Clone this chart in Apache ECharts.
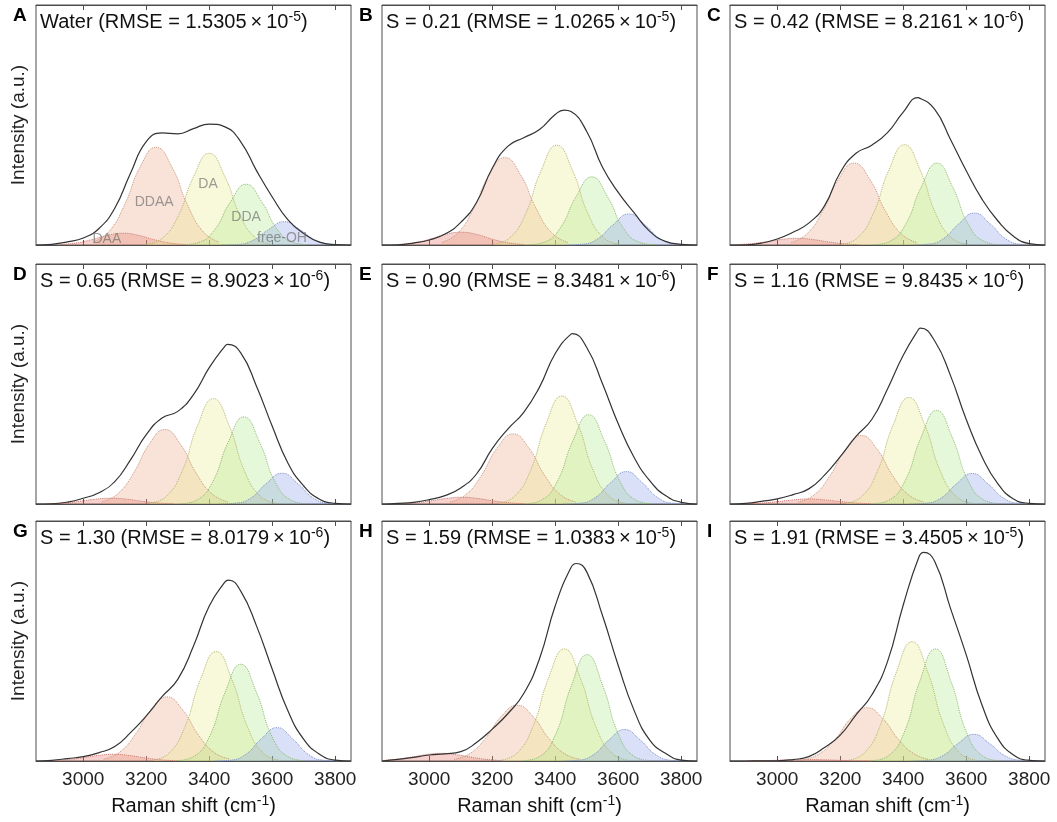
<!DOCTYPE html>
<html>
<head>
<meta charset="utf-8">
<script src="https://cdn.jsdelivr.net/npm/echarts@6/dist/echarts.min.js"></script>
<style>
  html, body { margin: 0; padding: 0; background: #fff; }
  #chart { width: 1057px; height: 822px; }
</style>
</head>
<body>
<div id="chart"></div>
<script>
// Raman shift grid (cm-1) for the measured / summed spectra
const shift = [2850, 2900, 2950, 3000, 3050, 3100, 3150, 3200, 3250, 3300, 3350,
               3400, 3450, 3500, 3550, 3600, 3650, 3700, 3750, 3800, 3850];
// sample points of each fitted band, relative to its centre (cm-1)
const offset = [-200, -150, -100, -50, 0, 50, 100, 150, 200];
const bandNames = ['DAA', 'DDAA', 'DA', 'DDA', 'free-OH'];
const tickValues = [3000, 3200, 3400, 3600, 3800];

const panelLetters = ['A', 'B', 'C', 'D', 'E', 'F', 'G', 'H', 'I'];
const panelNames = ['Water', 'S = 0.21', 'S = 0.42', 'S = 0.65', 'S = 0.90',
                    'S = 1.16', 'S = 1.30', 'S = 1.59', 'S = 1.91'];
const rmseMantissa = ['1.5305', '1.0265', '8.2161', '8.9023', '8.3481',
                      '9.8435', '8.0179', '1.0383', '3.4505'];
const rmseExp = ['-5', '-5', '-6', '-6', '-6', '-6', '-6', '-5', '-5'];

// maximum of each summed spectrum
const peakShift = [3400, 3428, 3446, 3458, 3455, 3455, 3461, 3467, 3465];
const peakValue = [50.5, 56.2, 61.4, 66.5, 71.0, 73.3, 75.4, 82.3, 86.9];

// A  water
const totalA = [0, 0.3, 1.3, 2.9, 6.9, 15.3, 29.9, 43.1, 46.7, 46.3, 48.5, 50.4, 49.2, 43.0, 31.0, 20.0, 10.5, 4.8, 1.2, 0.2, 0];
const centreA = [3126, 3231, 3400, 3517, 3638];
const bandsA = [
  [0.2, 0.8, 2.2, 4.0, 4.9, 4.0, 2.2, 0.8, 0.2],
  [1.2, 5.5, 16.7, 32.6, 40.7, 32.6, 16.7, 5.5, 1.2],
  [0.3, 2.7, 11.7, 28.4, 38.2, 28.4, 11.7, 2.7, 0.3],
  [0.1, 1.1, 6.3, 17.9, 25.3, 17.9, 6.3, 1.1, 0.1],
  [0, 0.2, 1.9, 6.4, 9.7, 6.4, 1.9, 0.2, 0]
];
// B  S = 0.21
const totalB = [0, 0.1, 0.8, 2.1, 4.6, 9.4, 17.7, 32.0, 41.2, 44.7, 48.1, 54.4, 55.6, 47.3, 32.4, 21.9, 13.5, 5.7, 1.5, 0.3, 0];
const centreB = [3101, 3240, 3405, 3516, 3634];
const bandsB = [
  [0.2, 0.9, 2.4, 4.4, 5.3, 4.4, 2.4, 0.9, 0.2],
  [1.1, 4.9, 15.0, 29.2, 36.4, 29.2, 15.0, 4.9, 1.1],
  [0.4, 2.9, 12.7, 31.0, 41.6, 31.0, 12.7, 2.9, 0.4],
  [0.1, 1.2, 7.1, 20.1, 28.4, 20.1, 7.1, 1.2, 0.1],
  [0, 0.3, 2.5, 8.5, 12.9, 8.5, 2.5, 0.3, 0]
];
// C  S = 0.42
const totalC = [0, 0.1, 0.8, 2.5, 5.3, 9.1, 16.3, 30.2, 38.2, 41.6, 46.8, 55.4, 61.3, 56.5, 44.0, 30.9, 19.1, 10.1, 3.6, 0.6, 0];
const centreC = [3062, 3244, 3404, 3507, 3626];
const bandsC = [
  [0.1, 0.5, 1.3, 2.3, 2.8, 2.3, 1.3, 0.5, 0.1],
  [1.0, 4.6, 14.0, 27.3, 34.1, 27.3, 14.0, 4.6, 1.0],
  [0.4, 2.9, 12.8, 31.1, 41.8, 31.1, 12.8, 2.9, 0.4],
  [0.1, 1.5, 8.5, 24.1, 34.1, 24.1, 8.5, 1.5, 0.1],
  [0, 0.3, 2.5, 8.8, 13.3, 8.8, 2.5, 0.3, 0]
];
// D  S = 0.65
const totalD = [0, 0.1, 0.8, 2.4, 4.7, 9.3, 18.4, 28.9, 35.8, 38.6, 45.6, 56.8, 65.8, 63.0, 49.1, 32.4, 17.0, 7.5, 2.0, 0.3, 0];
const centreD = [3088, 3259, 3413, 3510, 3631];
const bandsD = [
  [0.1, 0.4, 1.1, 2.0, 2.4, 2.0, 1.1, 0.4, 0.1],
  [0.9, 4.2, 12.7, 24.8, 31.0, 24.8, 12.7, 4.2, 0.9],
  [0.4, 3.1, 13.4, 32.7, 43.9, 32.7, 13.4, 3.1, 0.4],
  [0.1, 1.6, 9.0, 25.7, 36.3, 25.7, 9.0, 1.6, 0.1],
  [0, 0.3, 2.4, 8.5, 12.8, 8.5, 2.4, 0.3, 0]
];
// E  S = 0.90
const totalE = [0, 0.3, 0.7, 1.8, 3.5, 6.7, 12.5, 23.1, 31.3, 38.2, 48.7, 62.7, 70.8, 65.2, 50.1, 33.4, 19.5, 9.7, 3.5, 0.7, 0];
const centreE = [3104, 3266, 3421, 3506, 3626];
const bandsE = [
  [0.1, 0.5, 1.3, 2.3, 2.8, 2.3, 1.3, 0.5, 0.1],
  [0.8, 3.9, 12.0, 23.4, 29.2, 23.4, 12.0, 3.9, 0.8],
  [0.4, 3.2, 13.8, 33.5, 45.0, 33.5, 13.8, 3.2, 0.4],
  [0.1, 1.6, 9.3, 26.3, 37.2, 26.3, 9.3, 1.6, 0.1],
  [0, 0.3, 2.6, 8.9, 13.5, 8.9, 2.6, 0.3, 0]
];
// F  S = 1.16
const totalF = [0, 0.3, 1.1, 2.1, 3.9, 6.3, 12.0, 19.7, 28.2, 35.2, 47.9, 62.0, 73.0, 67.9, 53.5, 35.2, 19.7, 8.5, 2.1, 0.3, 0];
const centreF = [3101, 3267, 3418, 3506, 3619];
const bandsF = [
  [0.1, 0.4, 1.0, 1.7, 2.1, 1.7, 1.0, 0.4, 0.1],
  [0.8, 3.8, 11.7, 22.8, 28.5, 22.8, 11.7, 3.8, 0.8],
  [0.4, 3.1, 13.6, 33.0, 44.4, 33.0, 13.6, 3.1, 0.4],
  [0.2, 1.7, 9.7, 27.6, 39.0, 27.6, 9.7, 1.7, 0.2],
  [0, 0.3, 2.4, 8.4, 12.7, 8.4, 2.4, 0.3, 0]
];
// G  S = 1.30
const totalG = [0, 0.3, 1.0, 1.8, 3.5, 6.0, 11.8, 18.8, 26.8, 34.0, 47.9, 64.6, 74.6, 70.8, 56.3, 38.2, 20.8, 9.0, 2.8, 0.4, 0];
const centreG = [3096, 3265, 3422, 3500, 3615];
const bandsG = [
  [0.1, 0.5, 1.3, 2.3, 2.8, 2.3, 1.3, 0.5, 0.1],
  [0.8, 3.6, 11.0, 21.4, 26.7, 21.4, 11.0, 3.6, 0.8],
  [0.4, 3.2, 14.0, 33.9, 45.6, 33.9, 14.0, 3.2, 0.4],
  [0.2, 1.8, 10.0, 28.5, 40.3, 28.5, 10.0, 1.8, 0.2],
  [0, 0.3, 2.7, 9.2, 13.9, 9.2, 2.7, 0.3, 0]
];
// H  S = 1.59
const totalH = [0, 0.7, 1.5, 2.5, 3.0, 3.9, 7.7, 13.3, 19.8, 28.1, 42.6, 64.7, 80.6, 78.8, 60.6, 39.8, 21.2, 8.7, 3.2, 0.4, 0];
const centreH = [3037, 3279, 3429, 3501, 3620];
const bandsH = [
  [0.1, 0.6, 1.5, 2.6, 3.2, 2.6, 1.5, 0.6, 0.1],
  [0.7, 3.1, 9.5, 18.6, 23.2, 18.6, 9.5, 3.1, 0.7],
  [0.4, 3.3, 14.3, 34.7, 46.7, 34.7, 14.3, 3.3, 0.4],
  [0.2, 1.9, 11.0, 31.3, 44.3, 31.3, 11.0, 1.9, 0.2],
  [0, 0.3, 2.5, 8.7, 13.1, 8.7, 2.5, 0.3, 0]
];
// I  S = 1.91
const totalI = [0, 0, 0.1, 0.1, 0.6, 1.8, 5.6, 10.8, 19.2, 27.5, 41.4, 65.0, 85.1, 83.1, 63.6, 44.2, 23.3, 9.4, 2.5, 0.3, 0];
const centreI = [3100, 3284, 3428, 3502, 3624];
const bandsI = [
  [0, 0.1, 0.3, 0.5, 0.6, 0.5, 0.3, 0.1, 0],
  [0.6, 3.0, 9.1, 17.8, 22.2, 17.8, 9.1, 3.0, 0.6],
  [0.4, 3.5, 15.2, 37.0, 49.7, 37.0, 15.2, 3.5, 0.4],
  [0.2, 2.1, 11.6, 33.0, 46.7, 33.0, 11.6, 2.1, 0.2],
  [0, 0.3, 2.1, 7.3, 11.1, 7.3, 2.1, 0.3, 0]
];

const panels = [
  [totalA, centreA, bandsA], [totalB, centreB, bandsB], [totalC, centreC, bandsC],
  [totalD, centreD, bandsD], [totalE, centreE, bandsE], [totalF, centreF, bandsF],
  [totalG, centreG, bandsG], [totalH, centreH, bandsH], [totalI, centreI, bandsI]
];

const font = 'Liberation Sans, Arial, Helvetica, sans-serif';
const fills = ['rgba(226,110,100,0.45)', 'rgba(236,160,125,0.42)', 'rgba(232,232,140,0.45)',
               'rgba(170,230,130,0.42)', 'rgba(128,150,230,0.42)'];
const edges = ['#c87a70', '#c8957a', '#b4b46e', '#8cb870', '#7f8fc8'];
const frame = '#4d4d4d';

const colLeft = [36, 382, 730];
const rowTop = [5, 264, 521];
const W = 315, H = 240;

const supRich = {
  t: { fontSize: 20, fontWeight: 'normal', fontFamily: font, color: '#111', lineHeight: 24 },
  s: { fontSize: 14, fontWeight: 'normal', fontFamily: font, color: '#111', lineHeight: 14, verticalAlign: 'top' }
};

// merge the grid samples with the read maximum, in x order
function spectrum(total, k) {
  const pts = shift.map((x, i) => [x, total[i]]);
  if (!shift.includes(peakShift[k])) pts.push([peakShift[k], peakValue[k]]);
  return pts.sort((a, b) => a[0] - b[0]);
}

const grid = [], xAxis = [], yAxis = [], series = [], title = [];

panels.forEach(([total, centre, bands], k) => {
  const r = Math.floor(k / 3), c = k % 3;
  grid.push({ left: colLeft[c], top: rowTop[r], width: W, height: H,
              show: true, borderColor: frame, borderWidth: 1 });

  const tick = { show: true, inside: true, length: 5, customValues: tickValues,
                 lineStyle: { color: frame, width: 1 } };
  const bottom = {
    type: 'value', gridIndex: k, position: 'bottom', min: 2850, max: 3850,
    axisLine: { show: true, lineStyle: { color: frame, width: 1 } },
    axisTick: tick, splitLine: { show: false },
    axisLabel: { show: r === 2, customValues: tickValues, fontSize: 19,
                 fontFamily: font, color: '#222', margin: 9,
                 formatter: (v) => String(v) }
  };
  if (r === 2) {
    bottom.name = '{t|Raman shift (cm}{s|-1}{t|)}';
    bottom.nameLocation = 'middle';
    bottom.nameGap = 33;
    bottom.nameTextStyle = { rich: supRich };
  }
  xAxis.push(bottom);
  xAxis.push({
    type: 'value', gridIndex: k, position: 'top', min: 2850, max: 3850,
    axisLine: { show: true, lineStyle: { color: frame, width: 1 } },
    axisTick: tick, axisLabel: { show: false }, splitLine: { show: false }
  });
  yAxis.push({
    type: 'value', gridIndex: k, min: 0, max: 100,
    axisLine: { show: false }, axisTick: { show: false },
    axisLabel: { show: false }, splitLine: { show: false },
    name: c === 0 ? 'Intensity (a.u.)' : '',
    nameLocation: 'middle', nameGap: 8,
    nameTextStyle: { fontSize: 19, fontFamily: font, color: '#222' }
  });

  bands.forEach((vals, j) => {
    series.push({
      name: bandNames[j], type: 'line', xAxisIndex: 2 * k, yAxisIndex: k,
      data: vals.map((v, i) => [centre[j] + offset[i], v]),
      smooth: true, symbol: 'none', silent: true, z: 2,
      lineStyle: { type: 'dotted', width: 1, color: edges[j] },
      areaStyle: { color: fills[j] }
    });
  });
  series.push({
    name: 'total', type: 'line', xAxisIndex: 2 * k, yAxisIndex: k,
    data: spectrum(total, k),
    smooth: true, symbol: 'none', silent: true, z: 3,
    lineStyle: { color: '#333', width: 1.2 }
  });

  title.push({
    text: `{t|${panelNames[k]} (RMSE = ${rmseMantissa[k]}\u2009×\u200910}{s|${rmseExp[k]}}{t|)}`,
    left: colLeft[c] + 4, top: rowTop[r] + 5, padding: 0,
    textStyle: { fontWeight: 'normal', rich: supRich }
  });
  title.push({
    text: panelLetters[k], left: colLeft[c] - 23, top: rowTop[r] + 1, padding: 0,
    textStyle: { fontSize: 19, fontWeight: 'bold', fontFamily: font, color: '#000' }
  });
});

// band names written inside the water panel
series.push({
  type: 'scatter', xAxisIndex: 0, yAxisIndex: 0, symbolSize: 0, silent: true, z: 4,
  label: { show: true, position: 'inside', formatter: '{b}', fontSize: 14,
           fontFamily: font, color: 'rgba(110,110,110,0.85)' },
  data: [
    { name: 'DAA', value: [3075, 2.6] },
    { name: 'DDAA', value: [3225, 17.9] },
    { name: 'DA', value: [3396, 25.4] },
    { name: 'DDA', value: [3517, 11.7] },
    { name: 'free-OH', value: [3631, 2.9] }
  ]
});

const chart = echarts.init(document.getElementById('chart'), null, { renderer: 'canvas' });
chart.setOption({
  animation: false,
  backgroundColor: '#fff',
  title, grid, xAxis, yAxis, series
});
</script>
</body>
</html>
